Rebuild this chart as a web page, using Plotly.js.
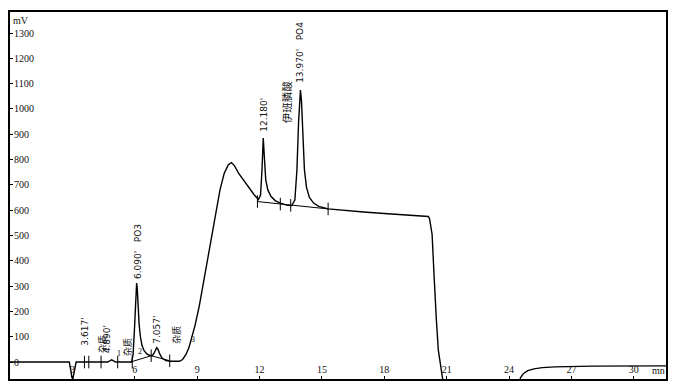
<!DOCTYPE html>
<html>
<head>
<meta charset="utf-8">
<script src="https://cdn.plot.ly/plotly-3.0.1.min.js"></script>
<style>html,body{margin:0;padding:0;background:#fff}#chart{width:676px;height:392px}</style>
</head>
<body>
<div id="chart"></div>
<script>
// Chromatogram signal (time in min, signal in mV)
const time = [0,2.85,2.92,2.98,3.03,3.1,3.18,4.7,4.8,4.89,4.98,5.08,5.85,5.92,5.98,6.03,6.07,6.09,6.12,6.16,6.21,6.27,6.35,6.45,6.58,6.72,6.85,6.93,7.0,7.057,7.12,7.2,7.32,7.5,7.7,8.15,8.3,8.45,8.6,8.75,8.9,9.1,9.3,9.5,9.7,9.9,10.1,10.3,10.5,10.65,10.8,11.0,11.25,11.5,11.75,11.95,12.05,12.12,12.18,12.24,12.3,12.4,12.55,12.75,13.0,13.3,13.55,13.7,13.8,13.88,13.94,13.97,14.02,14.08,14.16,14.26,14.4,14.6,14.85,15.3,16,17,18,19,20.0,20.12,20.18,20.24,20.3,20.4,20.45,20.5,20.6,20.7,20.8,20.85,24.5,24.55,24.7,24.9,25.2,25.6,26.2,27,28,31.6];
const signal = [0,0,-30,-62,-64,-30,0,0,5,9,5,0,0,30,120,230,300,312,290,220,150,100,65,45,32,26,26,35,50,57,50,32,15,6,3,3,10,28,55,95,145,220,310,400,500,590,680,745,780,788,775,745,715,688,660,642,660,760,885,800,720,680,655,638,628,620,618,640,760,950,1060,1075,1030,900,760,690,650,628,615,605,599,593,587,582,578,575,565,540,505,335,245,175,47,-15,-63,-90,-90,-62,-45,-34,-27,-22,-19,-17,-16,-15];

// Integration baselines
const baseA_t = [5.8, 6.79, 7.68];
const baseA_v = [0, 25, 5];
const baseB_t = [11.9, 15.3];
const baseB_v = [634, 605];

// Integration event marks
const mark_t = [3.58, 3.79, 4.38, 5.18, 5.88, 6.79, 7.68, 11.9, 13.0, 13.5, 15.3];
const mark_v = [0, 0, 0, 0, 0, 25, 5, 634, 624, 619, 605];

// Peak labels
const label_text = ["3.617'", "杂质", "4.890'", "杂质", "6.090'\u00a0\u00a0\u00a0PO3", "7.057'", "杂质", "12.180'", "伊班膦酸", "13.970'\u00a0\u00a0\u00a0PO4"];
const label_t = [3.62, 4.47, 4.68, 5.65, 6.13, 7.09, 8.0, 12.24, 13.34, 13.97];
const label_v = [58, 28, 28, 18, 320, 66, 66, 900, 935, 1095];
const label_size = [9, 9, 9, 9, 9, 9, 9, 9, 10.5, 9];

// Small peak numbers
const num_text = ["1", "2", "3"];
const num_t = [5.26, 6.27, 8.8];
const num_v = [35, 40, 90];

// Axis ticks
const xticks = [3, 6, 9, 12, 15, 18, 21, 24, 27, 30];
const yticks = [0, 100, 200, 300, 400, 500, 600, 700, 800, 900, 1000, 1100, 1200, 1300];

const traces = [
  {x: time, y: signal, mode: 'lines', line: {color: '#000', width: 1.4}, hoverinfo: 'skip'},
  {x: baseA_t, y: baseA_v, mode: 'lines', line: {color: '#000', width: 1}, hoverinfo: 'skip'},
  {x: baseB_t, y: baseB_v, mode: 'lines', line: {color: '#000', width: 1}, hoverinfo: 'skip'},
  {x: mark_t, y: mark_v, mode: 'markers', marker: {symbol: 'line-ns-open', size: 9, color: '#000', line: {color: '#000', width: 1}}, hoverinfo: 'skip'}
];

const annotations = [];
for (let i = 0; i < label_text.length; i++) {
  const cjk = /[\u4e00-\u9fff]/.test(label_text[i]);
  annotations.push({
    x: label_t[i], y: label_v[i], xref: 'x', yref: 'y',
    text: label_text[i], showarrow: false, textangle: -90,
    xanchor: 'center', yanchor: 'bottom',
    font: {family: cjk ? 'Noto Sans CJK SC' : 'DejaVu Sans', size: label_size[i], color: '#111'}
  });
}
for (let i = 0; i < num_text.length; i++) {
  annotations.push({
    x: num_t[i], y: num_v[i], xref: 'x', yref: 'y', text: num_text[i], showarrow: false,
    font: {family: 'Liberation Serif', size: 8, color: '#111'}
  });
}
annotations.push({x: 0.002, y: 0.998, xref: 'paper', yref: 'paper', xanchor: 'left', yanchor: 'top',
  text: 'mV', showarrow: false, font: {family: 'Liberation Serif', size: 10, color: '#111'}});
annotations.push({x: 0.988, y: 0.004, xref: 'paper', yref: 'paper', xanchor: 'center', yanchor: 'bottom',
  text: 'mn', showarrow: false, font: {family: 'Liberation Serif', size: 10, color: '#111'}});

const layout = {
  width: 676, height: 392,
  margin: {l: 10, r: 10, t: 12, b: 13},
  paper_bgcolor: '#fff', plot_bgcolor: '#fff',
  showlegend: false,
  xaxis: {
    range: [0, 31.55], showgrid: false, zeroline: false,
    showline: true, linecolor: '#000', linewidth: 2, mirror: true,
    ticks: 'inside', ticklen: 3, tickcolor: '#000', tickvals: xticks,
    ticklabelposition: 'inside', tickfont: {family: 'Liberation Serif', size: 10, color: '#111'}
  },
  yaxis: {
    range: [-67, 1383], showgrid: false, zeroline: false,
    showline: true, linecolor: '#000', linewidth: 2, mirror: true,
    ticks: 'inside', ticklen: 3, tickcolor: '#000', tickvals: yticks,
    ticklabelposition: 'inside', tickfont: {family: 'Liberation Serif', size: 10, color: '#111'}
  },
  annotations: annotations
};

Plotly.newPlot('chart', traces, layout, {staticPlot: true, displayModeBar: false});
</script>
</body>
</html>
